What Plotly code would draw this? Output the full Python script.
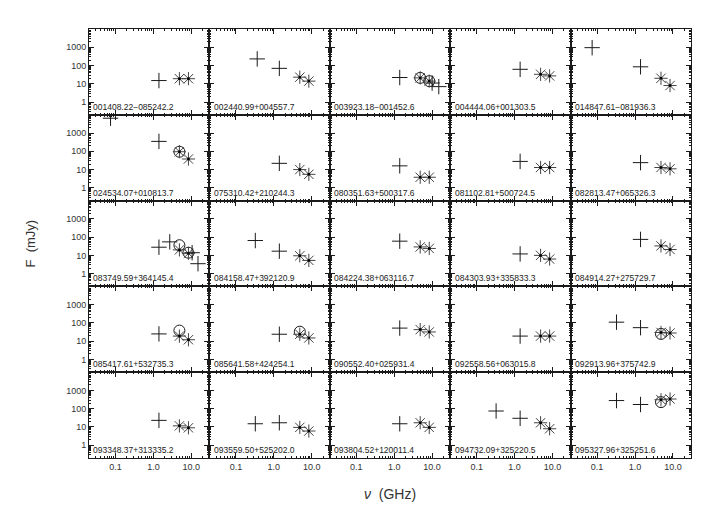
import plotly.graph_objects as go
from plotly.subplots import make_subplots
import math

names = ["001408.22\u2212085242.2", "002440.99+004557.7", "003923.18\u2212001452.6", "004444.06+001303.5", "014847.61\u2212081936.3",
         "024534.07+010813.7", "075310.42+210244.3", "080351.63+500317.6", "081102.81+500724.5", "082813.47+065326.3",
         "083749.59+364145.4", "084158.47+392120.9", "084224.38+063116.7", "084303.93+335833.3", "084914.27+275729.7",
         "085417.61+532735.3", "085641.58+424254.1", "090552.40+025931.4", "092558.56+063015.8", "092913.96+375742.9",
         "093348.37+313335.2", "093559.50+525202.0", "093804.52+120011.4", "094732.09+325220.5", "095327.96+325251.6"]

# "+" measurements: panel index, frequency (GHz), flux (mJy)
plus_src = [0, 1, 1, 2, 2, 2, 3, 4, 4, 5, 5, 6, 7, 8, 9,
            10, 10, 10, 10, 11, 11, 12, 13, 14, 15, 16, 17, 18, 19, 19,
            20, 21, 21, 22, 23, 23, 24, 24]
plus_freq = [1.4, 0.365, 1.4, 1.4, 10.0, 15.0, 1.4, 0.074, 1.4, 0.074, 1.4, 1.4, 1.4, 1.4, 1.4,
             1.4, 2.7, 10.5, 15.0, 0.325, 1.4, 1.4, 1.4, 1.4, 1.4, 1.4, 1.4, 1.4, 0.325, 1.4,
             1.4, 0.325, 1.4, 1.4, 0.325, 1.4, 0.325, 1.4]
plus_flux = [15, 230, 70, 22, 11, 7, 62, 950, 85, 6500, 350, 22, 16, 28, 24,
             28, 55, 14, 3.5, 65, 17, 60, 12, 75, 25, 24, 52, 19, 110, 55,
             23, 15, 17, 15, 75, 30, 280, 170]

# "*" measurements
star_src = [0, 0, 1, 1, 2, 2, 3, 3, 4, 4, 5, 5, 6, 6, 7, 7, 8, 8, 9, 9,
            10, 10, 11, 11, 12, 12, 13, 13, 14, 14, 15, 15, 16, 16, 17, 17, 18, 18, 19, 19,
            20, 20, 21, 21, 22, 22, 23, 23, 24, 24]
star_freq = [4.85, 8.4] * 25
star_flux = [19, 19, 23, 14, 21, 14, 33, 27, 20, 8, 95, 38, 10, 5.5, 3.8, 3.8, 13, 13, 13, 11,
             20, 13, 9.5, 5.3, 29, 24, 10, 6.3, 33, 21, 19, 12, 24, 15, 43, 32, 19, 19, 30, 28,
             11.5, 9, 9.5, 6, 17, 9.5, 17, 8, 310, 340]

# "o" measurements
circ_src = [2, 2, 5, 10, 10, 15, 16, 19, 24]
circ_freq = [4.85, 8.4, 4.85, 4.85, 8.4, 4.85, 4.85, 4.85, 4.85]
circ_flux = [21, 14, 95, 36, 14, 38, 33, 25, 230]

x_ticks = [0.1, 1.0, 10.0]
x_ticktext = ["0.1", "1.0", "10.0"]
y_ticks = [1, 10, 100, 1000]
y_ticktext = ["1", "10", "100", "1000"]

NR, NC = 5, 5
fig = make_subplots(rows=NR, cols=NC, horizontal_spacing=0, vertical_spacing=0)

INK = "#1a1a1a"
STAR = "#444444"
FONT = "Liberation Sans"

def rc(i):
    return i // NC + 1, i % NC + 1

for i in range(NR * NC):
    r, c = rc(i)
    px = [f for s, f in zip(plus_src, plus_freq) if s == i]
    py = [v for s, v in zip(plus_src, plus_flux) if s == i]
    sx = [f for s, f in zip(star_src, star_freq) if s == i]
    sy = [v for s, v in zip(star_src, star_flux) if s == i]
    cx = [f for s, f in zip(circ_src, circ_freq) if s == i]
    cy = [v for s, v in zip(circ_src, circ_flux) if s == i]
    if cx:
        fig.add_trace(go.Scatter(x=cx, y=cy, mode="markers", showlegend=False, hoverinfo="skip",
                                 marker=dict(symbol="circle-open", size=11, color=INK, line=dict(color=INK, width=1))), row=r, col=c)
    if sx:
        fig.add_trace(go.Scatter(x=sx, y=sy, mode="markers", showlegend=False, hoverinfo="skip",
                                 marker=dict(symbol="asterisk-open", size=11, color=STAR, line=dict(color=STAR, width=1))), row=r, col=c)
        fig.add_trace(go.Scatter(x=sx, y=sy, mode="markers", showlegend=False, hoverinfo="skip",
                                 marker=dict(symbol="square", size=2.5, color="#000", line=dict(width=0))), row=r, col=c)
    if px:
        fig.add_trace(go.Scatter(x=px, y=py, mode="markers", showlegend=False, hoverinfo="skip",
                                 marker=dict(symbol="cross-thin-open", size=11, color=INK, line=dict(color=INK, width=1))), row=r, col=c)

xminor = [m * 10 ** e for e in range(-2, 2) for m in range(2, 10)]
yminor = [m * 10 ** e for e in range(-1, 4) for m in range(2, 10)]

for i in range(NR * NC):
    r, c = rc(i)
    fig.update_xaxes(type="log", range=[math.log10(0.02), math.log10(30)], automargin=False,
                     tickmode="array", tickvals=x_ticks, ticktext=x_ticktext,
                     showticklabels=(r == NR), ticks="inside", ticklen=5, tickcolor=INK, tickwidth=1,
                     minor=dict(tickmode="array", tickvals=xminor, ticks="inside", ticklen=2, tickcolor=INK, showgrid=False),
                     showline=True, linecolor=INK, linewidth=1, mirror="allticks", showgrid=False, zeroline=False,
                     tickfont=dict(family=FONT, size=9, color="#333"), row=r, col=c)
    fig.update_yaxes(type="log", range=[math.log10(0.2), 4], automargin=False,
                     tickmode="array", tickvals=y_ticks, ticktext=y_ticktext,
                     showticklabels=(c == 1), ticks="inside", ticklen=5, tickcolor=INK, tickwidth=1,
                     minor=dict(tickmode="array", tickvals=yminor, ticks="inside", ticklen=2, tickcolor=INK, showgrid=False),
                     showline=True, linecolor=INK, linewidth=1, mirror="allticks", showgrid=False, zeroline=False,
                     tickfont=dict(family=FONT, size=9, color="#333"), row=r, col=c)
    xa = fig.get_subplot(r, c).xaxis.plotly_name.replace("axis", "")
    ya = fig.get_subplot(r, c).yaxis.plotly_name.replace("axis", "")
    fig.add_annotation(text=names[i], xref=xa + " domain", yref=ya + " domain", x=0.02, y=0.0,
                       xanchor="left", yanchor="bottom", yshift=1, showarrow=False,
                       font=dict(family=FONT, size=8.5, color="#222"))

fig.add_annotation(text="F  (mJy)", xref="paper", yref="paper", x=-0.098, y=0.5, textangle=-90,
                   showarrow=False, font=dict(family=FONT, size=13, color="#333"), xanchor="center", yanchor="middle")
fig.add_annotation(text="<i>\u03bd</i>  (GHz)", xref="paper", yref="paper", x=0.5, y=-0.085,
                   showarrow=False, font=dict(family=FONT, size=14, color="#333"), xanchor="center", yanchor="middle")

# page body has an 8px default margin; size the figure so the plot area lands where the reference has it
fig.update_layout(width=712, height=507, margin=dict(l=81, r=29, t=21, b=57),
                  paper_bgcolor="white", plot_bgcolor="white")
fig.write_html("out.html")
